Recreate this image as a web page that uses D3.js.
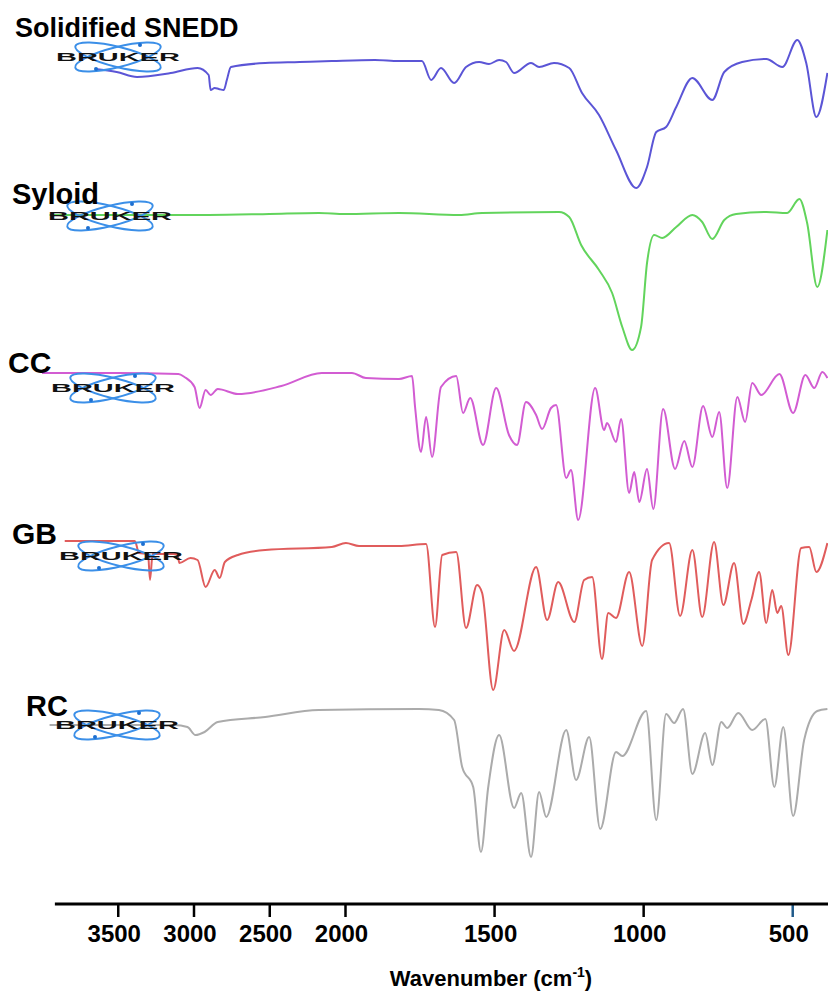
<!DOCTYPE html>
<html>
<head>
<meta charset="utf-8">
<script src="https://cdn.jsdelivr.net/npm/d3@7"></script>
<style>
  body { margin: 0; background: #fff; }
  svg { display: block; font-family: "Liberation Sans", Arial, sans-serif; }
</style>
</head>
<body>
<div id="chart"></div>
<script>
// FTIR spectra, transmittance relative to each trace's own baseline (a.u.)
const sampleNames = ['Solidified SNEDD', 'Syloid', 'CC', 'GB', 'RC'];
const sampleColours = ['#5b55d6', '#62d45c', '#d25cd2', '#e05c5c', '#ababab'];

const sneddSpectrum = [
  [3650, -9], [3507, -12], [3373, -17], [3150, -13], [2973, -8], [2900, -15], [2887, -30],
  [2860, -28], [2833, -29], [2800, -30], [2780, -20], [2753, -7], [2527, -3], [2300, -2],
  [2087, -1], [1900, 0], [1819, -1], [1742, -1], [1711, -20], [1678, -8], [1634, -23],
  [1594, -7], [1550, -2], [1517, -4], [1483, 0], [1460, -2], [1433, -13], [1376, -3],
  [1349, -7], [1299, -3], [1248, -8], [1205, -33], [1148, -55], [1091, -90], [1023, -128],
  [987, -107], [956, -72], [923, -67], [889, -47], [835, -18], [768, -40], [728, -12],
  [668, -2], [587, 1], [533, -7], [483, 20], [453, -3], [419, -57], [382, -13]
];

const syloidSpectrum = [
  [3950, 0], [3300, 0], [2900, 0], [2500, 1], [2173, 2], [2000, 1], [1819, 2], [1617, 0],
  [1540, 2], [1282, 3], [1248, -2], [1208, -30], [1148, -55], [1104, -78], [1070, -112],
  [1037, -135], [1007, -112], [987, -48], [963, -20], [936, -23], [889, -12], [835, 0],
  [802, -7], [768, -24], [728, -5], [688, 1], [587, 3], [517, 2], [476, 16], [450, -8],
  [416, -72], [382, -15]
];

const ccSpectrum = [
  [4000, 2], [3500, 2], [3100, 1], [3060, -2], [2993, -12], [2960, -33], [2920, -15],
  [2887, -20], [2840, -14], [2707, -19], [2420, -11], [2153, 2], [1977, 2], [1930, -3],
  [1819, -4], [1775, -1], [1765, -32], [1745, -77], [1728, -42], [1708, -82], [1678, -12],
  [1627, -1], [1604, -38], [1580, -23], [1537, -70], [1493, -13], [1450, -60], [1423, -70],
  [1393, -27], [1359, -40], [1339, -54], [1309, -33], [1292, -30], [1258, -103], [1242, -95],
  [1218, -145], [1161, -13], [1131, -55], [1121, -48], [1091, -67], [1074, -44], [1047, -118],
  [1030, -97], [1013, -127], [987, -94], [966, -134], [933, -34], [893, -94], [862, -66],
  [835, -92], [799, -31], [768, -62], [745, -37], [718, -113], [684, -22], [658, -47],
  [634, -8], [604, -20], [543, 1], [497, -38], [456, 0], [426, -13], [399, 3], [382, -3]
];

const gbSpectrum = [
  [3850, 4], [3387, 4], [3360, -8], [3300, -9], [3287, -35], [3270, -9], [3107, -9],
  [3093, -18], [3020, -13], [2973, -15], [2920, -42], [2860, -25], [2827, -33], [2793, -17],
  [2707, -10], [2527, -5], [2087, -2], [1997, 2], [1953, -1], [1819, -1], [1728, 1],
  [1698, -82], [1674, -10], [1627, -7], [1594, -83], [1557, -40], [1540, -48], [1503, -145],
  [1466, -85], [1433, -106], [1359, -22], [1322, -75], [1285, -37], [1231, -77], [1198, -35],
  [1171, -32], [1138, -114], [1117, -68], [1091, -73], [1047, -27], [1003, -101], [970, -15],
  [913, 2], [876, -71], [835, -5], [802, -72], [762, 3], [731, -60], [695, -18], [664, -79],
  [637, -55], [611, -27], [587, -78], [567, -45], [550, -68], [537, -61], [513, -110],
  [470, -3], [443, -2], [419, -27], [382, 2]
];

const rcSpectrum = [
  [3950, -15], [3127, -15], [3040, -17], [2987, -25], [2927, -22], [2840, -12], [2527, -7],
  [2173, 0], [1752, 1], [1685, 0], [1634, -10], [1607, -57], [1570, -77], [1544, -142],
  [1520, -78], [1483, -25], [1433, -98], [1409, -83], [1376, -147], [1349, -82], [1325, -107],
  [1258, -20], [1225, -70], [1181, -27], [1144, -119], [1091, -42], [1070, -46], [990, -1],
  [956, -110], [923, -4], [896, -13], [866, 1], [835, -64], [792, -23], [768, -55],
  [738, -12], [718, -18], [681, -3], [634, -20], [590, -9], [560, -77], [530, -17],
  [497, -106], [460, -30], [416, -1], [382, 1]
];

const spectra = [sneddSpectrum, syloidSpectrum, ccSpectrum, gbSpectrum, rcSpectrum];
const tickValues = [3500, 3000, 2500, 2000, 1500, 1000, 500];

// layout
const width = 828, height = 998;
const baselines = [60, 215, 375, 545, 710];
const labelPos = [[15, 37], [12, 204], [8, 373], [12, 544], [26, 716]];
const labelSize = [27, 29, 30, 30, 29];
const logoPos = [[118, 57], [110, 216], [113, 388], [121, 556], [117, 725]];
const axisY = 904;

// x axis has a 2x compression above 2000 cm-1
const x = d3.scaleLinear()
  .domain([4000, 2000, 380])
  .range([42, 345, 828]);

const svg = d3.select('#chart').append('svg')
  .attr('width', width)
  .attr('height', height);

const line = d3.line()
  .x(d => x(d[0]))
  .curve(d3.curveMonotoneX);

spectra.forEach((spec, i) => {
  const y = d3.scaleLinear()
    .domain([-200, 50])
    .range([baselines[i] + 200, baselines[i] - 50]);

  svg.append('path')
    .datum(spec)
    .attr('fill', 'none')
    .attr('stroke', sampleColours[i])
    .attr('stroke-width', 2)
    .attr('stroke-linejoin', 'round')
    .attr('d', line.y(d => y(d[1])));

  // instrument logo stamped on each trace
  const logo = svg.append('g')
    .attr('transform', `translate(${logoPos[i][0]},${logoPos[i][1]})`);
  [-14, 14].forEach(a => {
    logo.append('ellipse')
      .attr('rx', 44).attr('ry', 10)
      .attr('transform', `rotate(${a})`)
      .attr('fill', 'none')
      .attr('stroke', '#3b8fe8')
      .attr('stroke-width', 2);
  });
  [[-22, 12], [22, -12]].forEach(p => {
    logo.append('circle').attr('cx', p[0]).attr('cy', p[1]).attr('r', 2).attr('fill', '#1d6fd0');
  });
  logo.append('text')
    .attr('x', -62).attr('y', 4)
    .attr('textLength', 124)
    .attr('lengthAdjust', 'spacingAndGlyphs')
    .attr('font-size', 10)
    .attr('font-weight', 'bold')
    .attr('fill', '#111')
    .text('BRUKER');

  svg.append('text')
    .attr('x', labelPos[i][0])
    .attr('y', labelPos[i][1])
    .attr('font-size', labelSize[i])
    .attr('font-weight', 'bold')
    .attr('fill', '#000')
    .text(sampleNames[i]);
});

// axis
const axis = svg.append('g')
  .attr('transform', `translate(0,${axisY})`)
  .call(d3.axisBottom(x).tickValues(tickValues).tickSize(13).tickSizeOuter(0).tickFormat(d3.format('d')));
axis.select('.domain').remove();
axis.append('line')
  .attr('x1', x(3915)).attr('x2', width)
  .attr('stroke', '#000').attr('stroke-width', 3);
axis.selectAll('.tick line')
  .attr('stroke', d => d === 500 ? '#1f5a8a' : '#000')
  .attr('stroke-width', 2.5);
axis.selectAll('.tick text')
  .attr('y', 21)
  .attr('dx', -4)
  .attr('font-size', 24)
  .attr('font-weight', 'bold')
  .attr('font-family', '"Liberation Sans Narrow", "Liberation Sans", Arial, sans-serif')
  .attr('fill', '#000');

const title = svg.append('text')
  .attr('x', 491)
  .attr('y', 986)
  .attr('text-anchor', 'middle')
  .attr('font-size', 22)
  .attr('font-weight', 'bold')
  .attr('font-family', '"Liberation Sans Narrow", "Liberation Sans", Arial, sans-serif');
title.append('tspan').text('Wavenumber (cm');
title.append('tspan').attr('font-size', 14).attr('dy', -9).text('-1');
title.append('tspan').attr('dy', 9).text(')');
</script>
</body>
</html>
